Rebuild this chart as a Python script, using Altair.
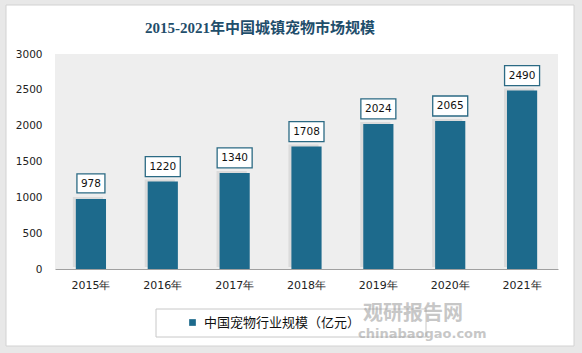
import altair as alt
import pandas as pd

years = ["2015年", "2016年", "2017年", "2018年", "2019年", "2020年", "2021年"]
values = [978, 1220, 1340, 1708, 2024, 2065, 2490]
series_name = "中国宠物行业规模（亿元）"
title_text = "2015-2021年中国城镇宠物市场规模"
y_ticks = [0, 500, 1000, 1500, 2000, 2500, 3000]

df = pd.DataFrame({"year": years, "value": values, "series": [series_name] * len(years)})
one = pd.DataFrame({"k": [0]})

W, H = 503, 215
BAR = "#1d6a8c"
AXFONT = "DejaVu Sans"

xscale = alt.Scale(paddingInner=0.58, paddingOuter=0.29)
yscale = alt.Scale(domain=[0, 3000], nice=False)
xaxis = alt.Axis(labelAngle=0, ticks=False, domainColor="#a0a0a0", domainWidth=1,
                 labelFont=AXFONT, labelFontSize=11, labelColor="#222",
                 labelPadding=10, zindex=1)
yaxis = alt.Axis(values=y_ticks, format="d", labelOverlap=False, grid=False,
                 domain=False, ticks=False,
                 labelFont=AXFONT, labelFontSize=10.5, labelColor="#222",
                 labelPadding=13, zindex=1)
xenc = alt.X("year:N", sort=years, title=None, scale=xscale, axis=xaxis)
yenc = alt.Y("value:Q", title=None, scale=yscale, axis=yaxis)

card = alt.Chart(one).mark_rect(fill="white", stroke="#d2d2d2", strokeWidth=1).encode(
    x=alt.value(-49), x2=alt.value(W + 16), y=alt.value(-49), y2=alt.value(H + 77))
plotbg = alt.Chart(one).mark_rect(fill="#eeeeee").encode(
    x=alt.value(0), x2=alt.value(W), y=alt.value(0), y2=alt.value(H))

base = alt.Chart(df)
shadow = base.mark_bar(color="#000000", opacity=0.08, xOffset=-3, yOffset=-2).encode(x=xenc, y=yenc)
bars = base.mark_bar().encode(
    x=xenc, y=yenc,
    color=alt.Color("series:N", scale=alt.Scale(range=[BAR]),
                    legend=alt.Legend(title=None, orient="none", legendX=131, legendY=262,
                                      symbolType="square", symbolSize=45, symbolStrokeWidth=0,
                                      labelFont="Noto Sans CJK SC", labelFontSize=13,
                                      labelColor="#111", padding=0, labelOffset=5)))

box3 = base.transform_filter("datum.value < 1000").mark_bar(
    width=28, fill="white", stroke="#2b6a84", strokeWidth=1.3, yOffset=-25, y2Offset=-6
).encode(x=xenc, y=yenc, y2="value:Q")
box4 = base.transform_filter("datum.value >= 1000").mark_bar(
    width=35, fill="white", stroke="#2b6a84", strokeWidth=1.3, yOffset=-25, y2Offset=-5
).encode(x=xenc, y=yenc, y2="value:Q")
labels = base.mark_text(font=AXFONT, fontSize=10.5, color="#111", baseline="middle", yOffset=-15).encode(
    x=xenc, y=yenc, text="value:Q")

title = alt.Chart(one).mark_text(text=title_text, font="Liberation Serif, Noto Sans CJK SC",
                                 fontSize=15, fontWeight="bold", color="#1f4e6b",
                                 align="center", baseline="alphabetic").encode(
    x=alt.value(205), y=alt.value(-21))

legbox = alt.Chart(one).mark_rect(fill="white", stroke="#c8c8c8", strokeWidth=1).encode(
    x=alt.value(101), x2=alt.value(371), y=alt.value(255), y2=alt.value(283))

wm1 = alt.Chart(one).mark_text(text="观研报告网", font="Noto Sans CJK SC", fontSize=20,
                               fontWeight="bold", color="#9a9a9a", opacity=0.55,
                               align="left", baseline="alphabetic").encode(
    x=alt.value(308), y=alt.value(266))
wm2 = alt.Chart(one).mark_text(text="chinabaogao.com", font=AXFONT, fontSize=13,
                               fontWeight="bold", color="#9a9a9a", opacity=0.55,
                               align="left", baseline="alphabetic").encode(
    x=alt.value(303), y=alt.value(284))

chart = alt.layer(card, plotbg, legbox, shadow, bars, box3, box4, labels, title, wm1, wm2).resolve_scale(
    x="shared", y="shared"
).properties(
    width=W, height=H,
    autosize=alt.AutoSizeParams(type="none"),
    padding={"left": 55, "top": 54, "right": 24, "bottom": 84},
    background="#e8e8e8",
).configure_view(stroke=None)

chart.save("out.html", embed_options={"renderer": "svg", "actions": False})
